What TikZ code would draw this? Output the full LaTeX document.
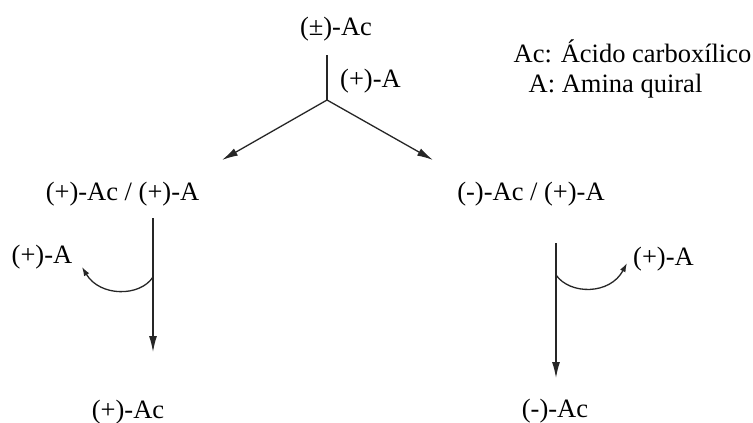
\documentclass[tikz,border=0pt]{standalone}
\usepackage{fontspec}
\setmainfont{Liberation Serif}
\usetikzlibrary{arrows.meta}
\tikzset{
  lbl/.style={inner sep=0pt, anchor=base, font=\fontsize{26.5}{30}\selectfont},
  conn/.style={line width=1.3pt, draw=black!85},
  bigarrow/.style={conn, -{Latex[length=16pt,width=8pt]}},
  smallarrow/.style={conn, -{Latex[length=9pt,width=6pt]}}
}
\begin{document}
\begin{tikzpicture}[x=1pt,y=-1pt]
\useasboundingbox (0,0) rectangle (753,423);
% texts
\node[lbl] (src)   at (336,35)   {(±)-Ac};
\node[lbl] (reag)  at (370.5,87) {(+)-A};
\node[lbl] (leg1)  at (632.5,62) {Ac: Ácido carboxílico};
\node[lbl] (leg2)  at (615.5,92) {A: Amina quiral};
\node[lbl] (mixL)  at (122.5,200) {(+)-Ac / (+)-A};
\node[lbl] (mixR)  at (531,200)   {(-)-Ac / (+)-A};
\node[lbl] (outL)  at (42,263)    {(+)-A};
\node[lbl] (outR)  at (663.5,265) {(+)-A};
\node[lbl] (prodL) at (128,418)   {(+)-Ac};
\node[lbl] (prodR) at (555,417)   {(-)-Ac};
% connector end points
\coordinate (srcEnd) at (327,55);
\coordinate (branch) at (327,100);
\coordinate (tipL)   at (222,160);
\coordinate (tipR)   at (433,160);
\coordinate (vLtop)  at (153,218);
\coordinate (vLtip)  at (153,352);
\coordinate (vRtop)  at (556,243);
\coordinate (vRtip)  at (556,378);
\coordinate (cLs)    at (153,277);
\coordinate (cLe)    at (82,267);
\coordinate (cRs)    at (556,275);
\coordinate (cRe)    at (627,263);
% connectors
\draw[conn] (srcEnd) -- (branch);
\draw[bigarrow] (branch) -- (tipL);
\draw[bigarrow] (branch) -- (tipR);
\draw[bigarrow] (vLtop) -- (vLtip);
\draw[bigarrow] (vRtop) -- (vRtip);
\draw[smallarrow] (cLs) .. controls (140,297) and (100,297) .. (cLe);
\draw[smallarrow] (cRs) .. controls (570,295) and (610,295) .. (cRe);
\end{tikzpicture}
\end{document}
